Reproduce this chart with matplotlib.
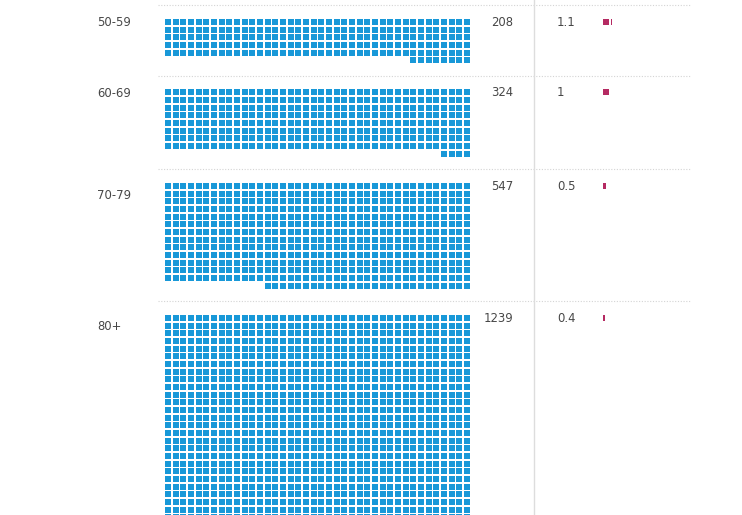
import matplotlib.pyplot as plt
from matplotlib.patches import Rectangle
from matplotlib.collections import PatchCollection

# Data
age_groups = ['50-59', '60-69', '70-79', '80+']
counts = [208, 324, 547, 1239]
rates = [1.1, 1, 0.5, 0.4]

# Layout (pixel units of the figure)
ncols = 40
pitch = 7.67
sq = 6.0
grid_x0 = 165
rate_x0 = 603
first_sep = 5.3
sep_to_top = 13.6
bottom_gap = 12.6
label_dy = [3.5, 4, 12.3, 11.3]   # label centre below the first row's top

blue = '#1898d8'
magenta = '#b52a62'
text_col = '#474747'
fs = 8.4

fig = plt.figure(figsize=(7.42, 5.15), dpi=100)
ax = fig.add_axes([0, 0, 1, 1])
ax.set_xlim(0, 742)
ax.set_ylim(515, 0)
ax.axis('off')

blue_sq = []
mag_sq = []
sep = first_sep
for label, n, r, dy in zip(age_groups, counts, rates, label_dy):
    ax.plot([158, 690], [sep, sep], color='#d4d4d4', lw=0.8, ls=(0, (1, 1.5)))
    top = sep + sep_to_top
    full_rows, rest = divmod(n, ncols)
    nrows = full_rows + (1 if rest else 0)
    for i in range(n):
        row, col = divmod(i, ncols)
        if row == full_rows:
            col = ncols - rest + col
        blue_sq.append(Rectangle((grid_x0 + col * pitch, top + row * pitch), sq, sq))
    # rate squares, fractional width for the remainder
    k = 0
    left = r
    while left > 1e-9:
        w = min(left, 1.0)
        mag_sq.append(Rectangle((rate_x0 + k * pitch, top), max(sq * w, 0.9), sq))
        left -= w
        k += 1
    ax.text(97, top + dy, label, ha='left', va='center', fontsize=fs, color=text_col)
    ax.text(513, top + 3.2, str(n), ha='right', va='center', fontsize=fs, color=text_col)
    ax.text(557, top + 3.5, f'{r:g}', ha='left', va='center', fontsize=fs, color=text_col)
    sep = top + (nrows - 1) * pitch + sq + bottom_gap

ax.add_collection(PatchCollection(blue_sq, facecolor=blue, edgecolor='none'))
ax.add_collection(PatchCollection(mag_sq, facecolor=magenta, edgecolor='none'))
ax.plot([534, 534], [0, 515], color='#dddddd', lw=1)

fig.savefig('out.png', dpi=100)
